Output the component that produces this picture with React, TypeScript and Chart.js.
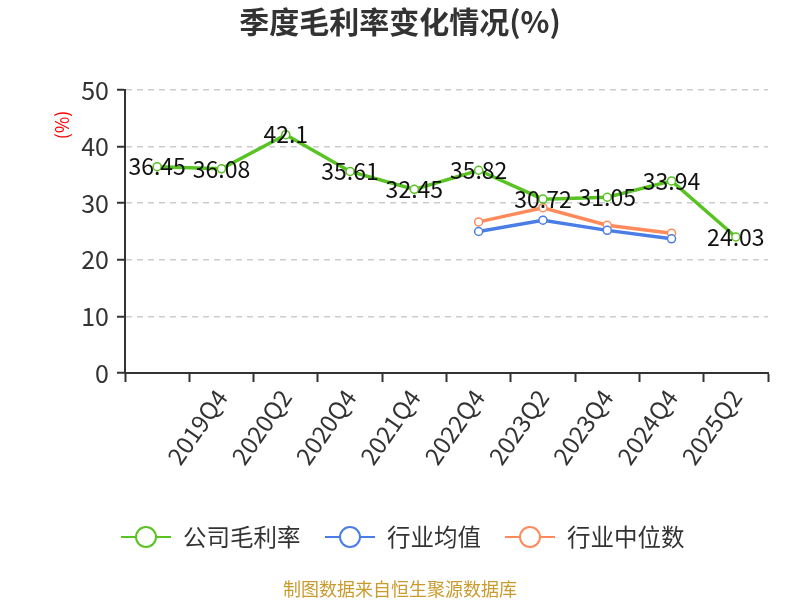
import React, { useEffect, useRef } from "react";
import { Chart, registerables } from "chart.js";

Chart.register(...registerables);

const quarters = [
  "2019Q2",
  "2019Q4",
  "2020Q2",
  "2020Q4",
  "2021Q4",
  "2022Q4",
  "2023Q2",
  "2023Q4",
  "2024Q4",
  "2025Q2",
];
const companyMargin = [36.45, 36.08, 42.1, 35.61, 32.45, 35.82, 30.72, 31.05, 33.94, 24.03];
const industryAvg = [null, null, null, null, null, 25.0, 27.0, 25.2, 23.7, null];
const industryMedian = [null, null, null, null, null, 26.7, 29.2, 26.1, 24.7, null];
const yTicks = [0, 10, 20, 30, 40, 50];

const seriesNames = ["公司毛利率", "行业均值", "行业中位数"];
const seriesColors = ["#58c322", "#4a7ee6", "#ff8a5b"];

const FONT = '"Noto Sans CJK SC", "Noto Sans", sans-serif';

// draws title, y unit, value labels, legend and source line
const decorations = {
  id: "decorations",
  afterDraw(chart: Chart) {
    const ctx = chart.ctx;
    ctx.save();

    ctx.fillStyle = "#333";
    ctx.font = `bold 30px ${FONT}`;
    ctx.textAlign = "center";
    ctx.textBaseline = "middle";
    ctx.fillText("季度毛利率变化情况(%)", 400, 22);

    ctx.save();
    ctx.translate(62, 125);
    ctx.rotate(-Math.PI / 2);
    ctx.fillStyle = "#ff0000";
    ctx.font = `18px ${FONT}`;
    ctx.fillText("(%)", 0, 0);
    ctx.restore();

    const meta = chart.getDatasetMeta(0);
    ctx.fillStyle = "#111";
    ctx.font = `23px ${FONT}`;
    meta.data.forEach((pt, i) => {
      ctx.fillText(String(companyMargin[i]), pt.x, pt.y);
    });

    const legendX = [121, 325, 505];
    const ly = 537;
    seriesNames.forEach((name, i) => {
      const x = legendX[i];
      ctx.strokeStyle = seriesColors[i];
      ctx.lineWidth = 2;
      ctx.beginPath();
      ctx.moveTo(x, ly);
      ctx.lineTo(x + 50, ly);
      ctx.stroke();
      ctx.beginPath();
      ctx.arc(x + 25, ly, 10, 0, Math.PI * 2);
      ctx.fillStyle = "#fff";
      ctx.fill();
      ctx.stroke();
      ctx.fillStyle = "#333";
      ctx.font = `23.5px ${FONT}`;
      ctx.textAlign = "left";
      ctx.fillText(name, x + 62, ly);
    });

    ctx.textAlign = "center";
    ctx.fillStyle = "#c99a2e";
    ctx.font = `18px ${FONT}`;
    ctx.fillText("制图数据来自恒生聚源数据库", 400, 589);

    ctx.restore();
  },
};

const App: React.FC = () => {
  const canvasRef = useRef<HTMLCanvasElement | null>(null);
  const chartRef = useRef<Chart | null>(null);

  useEffect(() => {
    if (!canvasRef.current) return;
    chartRef.current?.destroy();

    const lineStyle = (i: number) => ({
      borderColor: seriesColors[i],
      backgroundColor: seriesColors[i],
      borderWidth: 3.5,
      pointRadius: 4,
      pointBorderWidth: 1.5,
      pointBackgroundColor: "#fff",
      pointBorderColor: seriesColors[i],
      spanGaps: false,
    });

    chartRef.current = new Chart(canvasRef.current, {
      type: "line",
      data: {
        labels: quarters,
        datasets: [
          { label: seriesNames[0], data: companyMargin, ...lineStyle(0) },
          { label: seriesNames[1], data: industryAvg, ...lineStyle(1) },
          { label: seriesNames[2], data: industryMedian, ...lineStyle(2) },
        ],
      },
      options: {
        responsive: true,
        maintainAspectRatio: false,
        animation: false,
        layout: { padding: { top: 90, left: 0, right: 32, bottom: 127 } },
        plugins: {
          legend: { display: false },
          title: { display: false },
          tooltip: { enabled: false },
        },
        scales: {
          x: {
            type: "category",
            offset: true,
            grid: {
              offset: true,
              drawOnChartArea: false,
              drawTicks: true,
              tickLength: 9,
              tickColor: "#333",
              tickWidth: 2,
            },
            border: { color: "#333", width: 2 },
            ticks: {
              color: "#333",
              font: { family: FONT, size: 24 },
              minRotation: 55,
              maxRotation: 55,
              autoSkip: false,
              padding: 2,
              callback: (_v, i) => (i === 0 ? "" : quarters[i]),
            },
            afterFit: (s) => {
              s.height = 100;
            },
          },
          y: {
            min: yTicks[0],
            max: yTicks[yTicks.length - 1],
            afterBuildTicks: (s) => {
              s.ticks = yTicks.map((v) => ({ value: v }));
            },
            ticks: {
              color: "#333",
              font: { family: FONT, size: 25 },
              padding: 8,
            },
            grid: {
              color: (c) => (c.tick && c.tick.value === 0 ? "rgba(0,0,0,0)" : "#cccccc"),
              lineWidth: 1.5,
              tickColor: "#333",
              tickLength: 8,
              tickWidth: 2,
            },
            border: { color: "#333", width: 2, dash: [6, 5] },
            afterFit: (s) => {
              s.width = 125;
            },
          },
        },
      },
      plugins: [decorations],
    });

    return () => {
      chartRef.current?.destroy();
      chartRef.current = null;
    };
  }, []);

  return (
    <div style={{ position: "absolute", left: 0, top: 0, width: 800, height: 600, background: "#fff" }}>
      <canvas ref={canvasRef} />
    </div>
  );
};

export default App;
